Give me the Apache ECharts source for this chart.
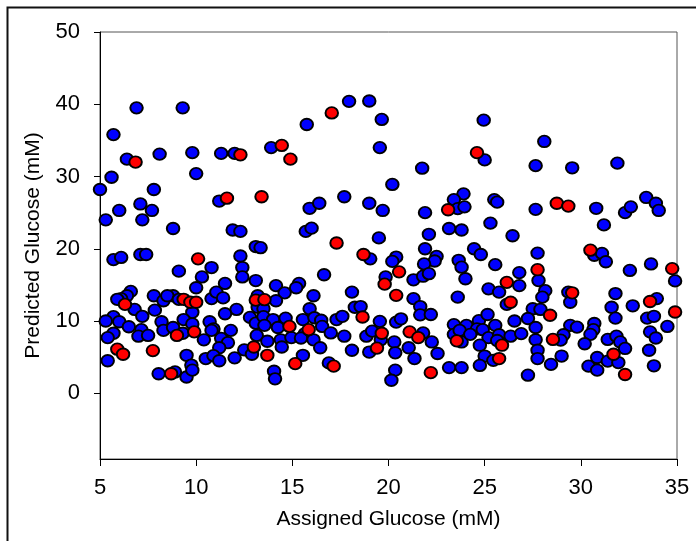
<!DOCTYPE html>
<html>
<head>
<meta charset="utf-8">
<script src="https://cdn.jsdelivr.net/npm/echarts@6/dist/echarts.min.js"></script>
<style>
html,body{margin:0;padding:0;background:#fff;}
#chart{width:696px;height:541px;}
</style>
</head>
<body>
<div id="chart"></div>
<script>
// Assigned vs predicted glucose (mM)
const xTicks = [5, 10, 15, 20, 25, 30, 35];
const yTicks = [0, 10, 20, 30, 40, 50];
const xTitle = 'Assigned Glucose (mM)';
const yTitle = 'Predicted Glucose (mM)';

const bluePoints = [
[6.9,39.5],[9.3,39.5],[5.7,35.8],[6.4,32.4],[8.1,33.1],[9.8,33.3],[11.3,33.2],[12.0,33.2],[5.6,29.9],[10.0,30.4],[5.0,28.2],[7.8,28.2],[11.2,26.6],[6.0,25.3],[7.1,26.2],[7.7,25.3],[5.3,24.0],[7.2,24.0],[8.8,22.8],[11.9,22.6],[12.3,22.4],
[5.7,18.5],[6.1,18.8],[7.1,19.2],[7.4,19.2],[12.3,19.0],[13.1,20.3],[10.8,17.4],[9.1,16.9],[12.4,17.4],[12.4,16.1],[10.3,16.1],[13.1,15.6],[10.0,14.6],[11.5,15.2],[6.6,14.1],[6.4,13.5],[6.1,13.1],[5.9,13.0],[6.8,11.6],[7.8,13.5],[8.3,12.8],[8.8,13.5],[8.5,13.5],[9.1,13.0],[9.8,11.2],[10.8,13.1],[11.05,14.0],[11.4,13.2],[13.2,11.9],[7.85,11.5],[7.2,10.65],[5.7,10.6],[5.3,10.0],[6.0,9.9],[9.35,10.2],[9.8,9.6],[10.7,9.9],[10.9,8.9],[12.1,11.6],[11.5,11.0],[12.8,10.5],[13.1,9.7],[6.5,9.2],[7.15,8.8],[5.7,8.3],[7.0,7.9],[7.5,8.0],[8.2,9.9],[8.3,8.7],[8.8,9.1],[9.3,8.3],[10.4,7.4],[10.8,8.7],[11.4,7.3],[11.8,8.7],[11.3,7.6],[11.65,7.0],[11.2,6.3],[5.4,7.7],[5.4,4.5],[9.5,5.25],[9.75,3.9],[10.5,4.8],[10.9,5.2],[11.2,4.5],[12.0,4.9],[12.5,6.0],[12.9,5.4],[8.05,2.7],[8.9,2.95],[9.5,2.25],[9.8,3.2],
[17.95,40.4],[19.0,40.45],[15.75,37.2],[19.65,37.9],[13.9,34.0],[19.55,34.0],[20.2,28.9],[15.9,25.6],[16.4,26.3],[17.7,27.2],[19.0,26.3],[19.7,25.3],[15.7,22.4],[16.0,22.85],[19.5,21.5],
[13.35,20.15],[19.05,18.6],[20.4,18.85],[20.2,18.25],[16.65,16.4],[19.85,16.1],[14.15,14.9],[14.6,13.9],[15.35,15.2],[15.2,14.6],[16.1,13.5],[18.1,14.0],[13.2,13.5],[14.15,12.8],[13.5,11.7],[15.9,11.7],[18.25,11.9],[18.55,12.0],[13.5,10.6],[14.0,10.2],[14.65,10.4],[15.55,10.2],[16.15,10.45],[16.5,10.1],[17.3,10.2],[17.6,10.65],[19.55,9.95],[20.4,9.85],[13.55,9.4],[14.25,9.1],[15.65,8.25],[16.55,9.25],[17.0,8.35],[17.7,7.9],[18.85,7.9],[19.15,8.6],[13.15,8.0],[13.7,7.2],[14.4,7.4],[14.95,7.7],[15.45,7.65],[16.1,7.4],[16.45,6.3],[14.45,6.4],[15.55,5.25],[16.9,4.2],[18.1,5.95],[19.0,5.7],[19.6,7.4],[20.3,7.1],[20.35,5.6],[14.05,3.05],[14.1,2.0],[20.35,3.2],[20.15,1.8],
[24.95,37.8],[25.0,32.3],[27.65,31.5],[28.1,34.85],[21.75,31.15],[23.9,27.6],[23.4,26.8],[23.6,25.55],[23.95,25.8],[21.9,25.0],[25.5,26.8],[25.65,26.45],[27.65,25.45],[23.15,22.8],[23.8,22.6],[25.3,23.55],[22.1,22.0],[26.45,21.8],
[29.55,31.2],[31.9,31.85],[30.8,25.6],[31.2,23.3],[32.3,25.0],[32.6,25.8],[33.4,27.1],[33.9,26.3],[34.05,25.3],
[21.9,20.0],[24.45,20.0],[24.8,19.2],[22.5,18.95],[22.4,18.3],[21.85,17.9],[23.65,18.4],[23.8,17.45],[25.55,17.8],[21.3,15.7],[21.8,16.2],[22.1,16.55],[24.0,15.85],[26.8,16.7],[26.8,14.9],[25.2,14.45],[25.75,14.0],[26.15,12.3],[21.3,13.1],[23.6,13.3],[21.65,12.0],[21.65,10.85],[22.2,10.9],[20.65,10.3],[27.5,11.7],[27.9,11.6],[27.25,10.35],[27.8,15.6],[26.55,10.0],[23.4,9.5],[24.05,9.4],[24.7,10.05],[25.15,10.9],[25.55,9.4],[24.6,8.9],[24.9,8.8],[21.8,8.35],[23.4,8.15],[23.7,8.7],[23.8,7.1],[24.25,8.15],[25.2,7.7],[25.75,8.1],[26.35,7.9],[26.9,8.25],[27.65,9.1],[27.65,7.4],[22.25,7.1],[24.75,6.65],[25.65,7.3],[21.05,6.3],[22.55,5.5],[21.35,4.8],[25.0,5.15],[25.45,4.55],[27.75,5.95],[27.75,4.8],[24.75,3.85],[23.15,3.55],[23.8,3.55],[27.25,2.5],
[30.7,19.1],[31.1,19.35],[31.3,18.2],[27.75,19.4],[32.55,17.0],[33.65,17.9],[34.9,15.55],[28.15,14.2],[28.0,13.3],[29.35,14.0],[29.45,12.6],[31.8,13.8],[31.6,11.9],[31.8,10.4],[32.7,12.1],[33.95,13.1],[33.45,10.4],[33.8,10.65],[34.5,9.25],[29.45,9.4],[29.8,9.15],[30.7,9.65],[30.65,8.8],[30.5,8.15],[29.1,8.1],[28.95,7.35],[30.2,6.85],[31.4,7.45],[31.85,7.9],[32.05,7.1],[32.3,6.2],[33.6,8.5],[33.9,7.65],[33.55,5.95],[29.0,5.15],[28.45,4.0],[30.85,4.95],[31.4,4.45],[31.95,4.25],[30.4,3.75],[30.85,3.2],[33.8,3.8]
];

const redPoints = [
[6.85,32.0],[12.3,33.0],[11.6,27.0],[13.4,27.2],[10.1,18.6],[6.3,12.3],[9.35,13.0],[9.7,12.6],[10.0,12.6],[13.1,12.9],[9.0,8.0],[9.9,8.5],[5.9,6.1],[6.2,5.4],[7.75,5.9],[13.0,6.4],[8.7,2.7],
[17.05,38.8],[14.45,34.3],[14.9,32.4],[17.3,20.8],[18.7,19.2],[19.8,15.1],[20.55,16.8],[20.4,13.55],[13.55,12.95],[18.65,10.55],[14.85,9.25],[15.85,8.8],[19.65,8.3],[13.7,5.25],[15.15,4.1],[17.15,3.75],[19.4,6.25],
[24.6,33.3],[23.1,25.4],[28.75,26.3],[29.35,25.9],[27.75,17.1],[26.15,15.35],[26.35,12.6],[21.1,8.5],[21.55,7.7],[23.55,7.25],[25.9,6.65],[25.75,4.8],[22.2,2.85],
[30.5,19.8],[34.75,17.25],[29.55,13.9],[33.6,12.7],[34.9,11.25],[28.4,10.8],[28.55,7.45],[31.7,5.4],[32.3,2.6]
];

const FONT = '"Liberation Sans", Arial, sans-serif';
const chart = echarts.init(document.getElementById('chart'), null, {renderer: 'canvas'});

const markerStyle = (fill) => ({
  color: fill,
  borderColor: '#000',
  borderWidth: 1.9,
  opacity: 1
});

chart.setOption({
  animation: false,
  backgroundColor: '#fff',
  graphic: [{
    type: 'rect',
    shape: {x: 7.5, y: 7.5, width: 720, height: 560},
    style: {fill: 'none', stroke: '#111', lineWidth: 2},
    silent: true
  }],
  grid: {
    left: 100, right: 19, top: 32, bottom: 82,
    show: true, borderColor: '#555', borderWidth: 1, backgroundColor: 'transparent'
  },
  xAxis: {
    type: 'value',
    min: 5, max: 35, interval: 5,
    name: xTitle,
    nameLocation: 'middle',
    nameGap: 50,
    nameTextStyle: {fontFamily: FONT, fontSize: 21, color: '#000'},
    axisLine: {show: true, onZero: false, lineStyle: {color: '#000', width: 1}},
    axisTick: {show: true, inside: false, length: 7, lineStyle: {color: '#000'}, customValues: xTicks},
    axisLabel: {fontFamily: FONT, fontSize: 22, color: '#000', margin: 18, customValues: xTicks},
    splitLine: {show: false}
  },
  yAxis: {
    type: 'value',
    min: -9.1, max: 50,
    name: yTitle,
    nameLocation: 'middle',
    nameRotate: 90,
    nameGap: 56,
    nameTextStyle: {fontFamily: FONT, fontSize: 21, color: '#000'},
    axisLine: {show: true, onZero: false, lineStyle: {color: '#000', width: 1}},
    axisTick: {show: true, inside: false, length: 6, lineStyle: {color: '#000'}, customValues: yTicks},
    axisLabel: {fontFamily: FONT, fontSize: 22, color: '#000', margin: 20, customValues: yTicks},
    splitLine: {show: false}
  },
  series: [
    {
      name: 'blue', type: 'scatter', data: bluePoints,
      symbol: 'circle', symbolSize: [12.5, 11.5],
      itemStyle: markerStyle('#0000FF'),
      emphasis: {disabled: true}
    },
    {
      name: 'red', type: 'scatter', data: redPoints,
      symbol: 'circle', symbolSize: [12.5, 11.5],
      itemStyle: markerStyle('#FF0000'),
      emphasis: {disabled: true}
    }
  ]
});
</script>
</body>
</html>
